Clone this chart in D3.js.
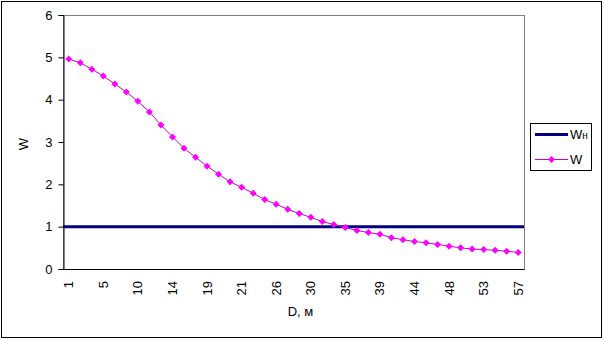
<!DOCTYPE html>
<html>
<head>
<meta charset="utf-8">
<script src="https://cdn.jsdelivr.net/npm/d3@7"></script>
<style>
  body { margin: 0; background: #fff; }
  svg { display: block; font-family: "Liberation Sans", Arial, sans-serif; }
</style>
</head>
<body>
<div id="chart"></div>
<script>
// D values along the category axis (every third one is labelled)
const dValues = [1, 2, 4, 5, 7, 8, 10, 11, 13, 14, 16, 17, 19, 20, 20, 21, 23, 24, 26, 27,
                 29, 30, 32, 33, 35, 36, 38, 39, 41, 42, 44, 45, 47, 48, 50, 51, 53, 54, 56, 57];

// W series
const wValues = [4.96, 4.87, 4.72, 4.56, 4.37, 4.18, 3.96, 3.71, 3.40, 3.12,
                 2.85, 2.64, 2.43, 2.24, 2.06, 1.93, 1.79, 1.64, 1.53, 1.41,
                 1.31, 1.22, 1.12, 1.05, 0.98, 0.91, 0.86, 0.82, 0.74, 0.69,
                 0.65, 0.62, 0.58, 0.54, 0.50, 0.47, 0.46, 0.44, 0.42, 0.39];

// normative value Wн
const wnValues = [1, 1, 1, 1, 1, 1, 1, 1, 1, 1, 1, 1, 1, 1, 1, 1, 1, 1, 1, 1,
                  1, 1, 1, 1, 1, 1, 1, 1, 1, 1, 1, 1, 1, 1, 1, 1, 1, 1, 1, 1];

const yTicks = [0, 1, 2, 3, 4, 5, 6];
const labelEvery = 3;

const width = 604, height = 340;
const plot = { left: 63, top: 15, right: 524, bottom: 269 };

const svg = d3.select('#chart').append('svg')
    .attr('width', width)
    .attr('height', height);

// outer frame
svg.append('rect')
    .attr('x', 1.5).attr('y', 1.5)
    .attr('width', 600).attr('height', 336)
    .attr('fill', '#fff')
    .attr('stroke', '#000')
    .attr('stroke-width', 1);

const cats = dValues.map((d, i) => i);
const x = d3.scalePoint()
    .domain(cats)
    .range([plot.left, plot.right])
    .padding(0.5);

const y = d3.scaleLinear()
    .domain([0, 6])
    .range([plot.bottom, plot.top]);

// plot area border
svg.append('rect')
    .attr('x', plot.left + 0.5).attr('y', plot.top + 0.5)
    .attr('width', plot.right - plot.left).attr('height', plot.bottom - plot.top)
    .attr('fill', '#fff')
    .attr('stroke', '#808080');

// y axis
const yAxis = svg.append('g')
    .attr('transform', `translate(${plot.left + 0.5},0)`)
    .call(d3.axisLeft(y).tickValues(yTicks).tickSize(5).tickPadding(6).tickFormat(d3.format('d')));
yAxis.select('.domain').attr('stroke', '#000');
yAxis.selectAll('.tick line').attr('stroke', '#000');
yAxis.selectAll('text')
    .attr('font-size', 13)
    .attr('font-family', '"Liberation Sans", Arial, sans-serif')
    .attr('fill', '#000');

// x axis line
svg.append('line')
    .attr('x1', plot.left).attr('x2', plot.right + 0.5)
    .attr('y1', plot.bottom + 0.5).attr('y2', plot.bottom + 0.5)
    .attr('stroke', '#000');

// x tick labels, rotated
svg.append('g').selectAll('text')
    .data(cats.filter(i => i % labelEvery === 0))
    .join('text')
    .attr('transform', i => `translate(${x(i) + 4.5},${plot.bottom + 12}) rotate(-90)`)
    .attr('text-anchor', 'end')
    .attr('font-size', 13)
    .text(i => dValues[i]);

// axis titles
svg.append('text')
    .attr('x', (plot.left + plot.right) / 2 + 7)
    .attr('y', 316)
    .attr('text-anchor', 'middle')
    .attr('font-size', 13)
    .text('D, м');

svg.append('text')
    .attr('transform', `translate(28,${(plot.top + plot.bottom) / 2 + 2}) rotate(-90)`)
    .attr('text-anchor', 'middle')
    .attr('font-size', 13)
    .text('W');

// Wн line spans the whole plot width
const wnLine = d3.line()
    .x((d, i) => i === 0 ? plot.left : i === wnValues.length - 1 ? plot.right : x(i))
    .y(d => y(d));
svg.append('path')
    .datum(wnValues)
    .attr('d', wnLine)
    .attr('fill', 'none')
    .attr('stroke', '#000080')
    .attr('stroke-width', 3);

// W line with diamond markers
const wLine = d3.line()
    .x((d, i) => x(i))
    .y(d => y(d));
svg.append('path')
    .datum(wValues)
    .attr('d', wLine)
    .attr('fill', 'none')
    .attr('stroke', '#cc00cc')
    .attr('stroke-width', 1);

const diamond = (cx, cy, r) => `M${cx},${cy - r}L${cx + r},${cy}L${cx},${cy + r}L${cx - r},${cy}Z`;
svg.append('g').selectAll('path')
    .data(wValues)
    .join('path')
    .attr('d', (d, i) => diamond(x(i), y(d), 3.5))
    .attr('fill', '#ff00ff');

// legend
const legend = svg.append('g').attr('transform', 'translate(530,123)');
legend.append('rect')
    .attr('x', 0.5).attr('y', 0.5)
    .attr('width', 61).attr('height', 47)
    .attr('fill', '#fff')
    .attr('stroke', '#000');

legend.append('line')
    .attr('x1', 5).attr('x2', 38)
    .attr('y1', 11.5).attr('y2', 11.5)
    .attr('stroke', '#000080')
    .attr('stroke-width', 3);
const wnText = legend.append('text')
    .attr('x', 40).attr('y', 16)
    .attr('font-size', 13);
wnText.append('tspan').text('W');
wnText.append('tspan').attr('font-size', 10).text('н');

legend.append('line')
    .attr('x1', 5).attr('x2', 38)
    .attr('y1', 36.5).attr('y2', 36.5)
    .attr('stroke', '#cc00cc')
    .attr('stroke-width', 1);
legend.append('path')
    .attr('d', diamond(21.5, 36.5, 3.5))
    .attr('fill', '#ff00ff');
legend.append('text')
    .attr('x', 40).attr('y', 41)
    .attr('font-size', 13)
    .text('W');
</script>
</body>
</html>
